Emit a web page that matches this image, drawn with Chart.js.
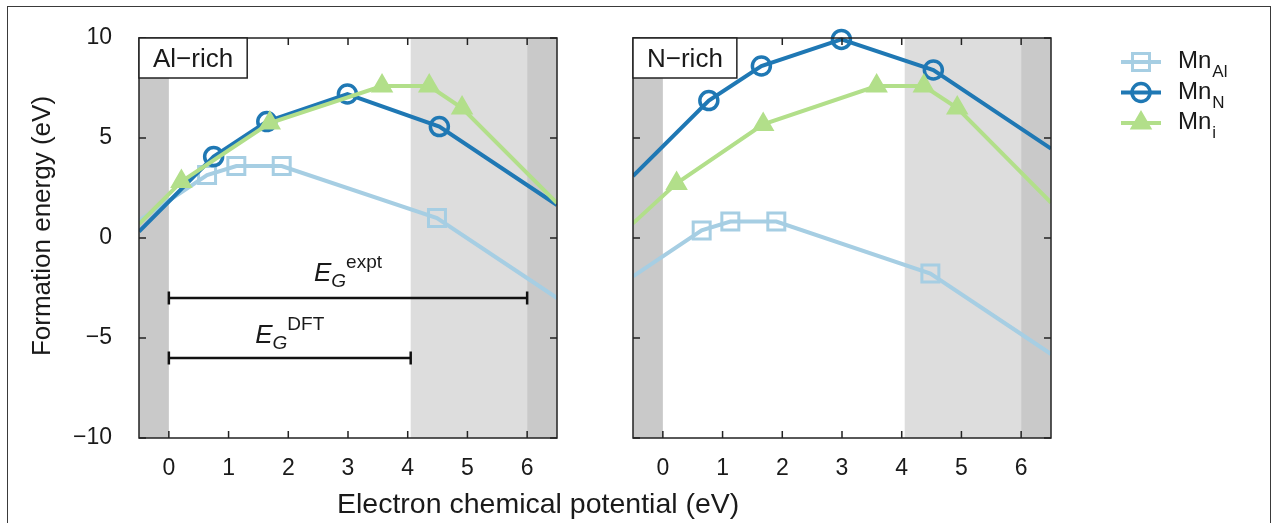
<!DOCTYPE html>
<html>
<head>
<meta charset="utf-8">
<title>Mn defect formation energies</title>
<script src="https://cdn.jsdelivr.net/npm/chart.js@4"></script>
<style>
  body { margin: 0; background: #fff; width: 1272px; height: 523px; overflow: hidden; position: relative;
         font-family: 'Liberation Sans', Arial, sans-serif; }
  canvas { position: absolute; left: 0; top: 0; }
  #frame { position: absolute; left: 7px; top: 6px; width: 1264px; height: 540px; box-sizing: border-box;
           border: 1.5px solid #3a3a3a; border-bottom: none; }
  .axis-title { position: absolute; color: #1a1a1a; white-space: nowrap; line-height: 1; }
  #ytitle { left: -109px; top: 213px; width: 300px; height: 26px; font-size: 26px; text-align: center;
            transform: rotate(-90deg); }
  #xtitle { left: 337px; top: 489px; font-size: 28.5px; }
</style>
</head>
<body>
<div id="frame"></div>
<canvas id="alRich" width="1272" height="523"></canvas>
<canvas id="nRich" width="1272" height="523"></canvas>
<div id="ytitle" class="axis-title">Formation energy (eV)</div>
<div id="xtitle" class="axis-title">Electron chemical potential (eV)</div>
<script>
// axes
const xMin = -0.5, xMax = 6.5;
const xTickValues = [0, 1, 2, 3, 4, 5, 6];
const yTickValues = [-10, -5, 0, 5, 10];

// band gaps (eV): DFT and experiment, with the VBM at 0
const gapDFT = 4.05;
const gapExpt = 6.0;

// Al-rich transition-level lines
const alRichMnAlX = [-0.5, 0.64, 1.13, 1.89, 4.49, 6.5];
const alRichMnAlY = [0.87, 3.15, 3.6, 3.6, 1.0, -3.0];
const alRichMnNX  = [-0.5, 0.75, 1.64, 2.99, 4.53, 6.5];
const alRichMnNY  = [0.32, 4.07, 5.82, 7.2, 5.57, 1.65];
const alRichMniX  = [-0.5, 0.21, 1.69, 3.57, 4.36, 4.91, 6.5];
const alRichMniY  = [0.7, 2.82, 5.75, 7.6, 7.6, 6.5, 1.75];

// N-rich transition-level lines
const nRichMnAlX = [-0.5, 0.65, 1.13, 1.9, 4.48, 6.5];
const nRichMnAlY = [-1.92, 0.38, 0.82, 0.82, -1.78, -5.8];
const nRichMnNX  = [-0.5, 0.77, 1.65, 2.99, 4.53, 6.5];
const nRichMnNY  = [3.1, 6.87, 8.6, 9.93, 8.4, 4.47];
const nRichMniX  = [-0.5, 0.23, 1.68, 3.58, 4.37, 4.93, 6.5];
const nRichMniY  = [0.73, 2.73, 5.68, 7.6, 7.6, 6.5, 1.77];

const FONT = "'Liberation Sans', Arial, sans-serif";
const INK = '#1a1a1a';

const styles = {
  MnAl: { color: '#a6cee3', shape: 'rect',     radius: 12, fill: 'rgba(255,255,255,0)', pointBorder: 3,   order: 3 },
  MnN:  { color: '#1f78b4', shape: 'circle',   radius: 9,  fill: 'rgba(255,255,255,0)', pointBorder: 3.5, order: 2 },
  Mni:  { color: '#b2df8a', shape: 'triangle', radius: 11, fill: '#b2df8a',             pointBorder: 2,   order: 1 }
};

// grey bands: outside the experimental gap, and between the DFT and experimental CBM
const bands = [
  { from: xMin, to: 0, color: '#c9c9c9' },
  { from: gapDFT, to: gapExpt, color: '#dddddd' },
  { from: gapExpt, to: xMax, color: '#c9c9c9' }
];

function series(xs, ys, st) {
  const r = xs.map((x, i) => (i === 0 || i === xs.length - 1) ? 0 : st.radius);
  return {
    data: xs.map((x, i) => ({ x: x, y: ys[i] })),
    borderColor: st.color,
    borderWidth: 4,
    pointStyle: st.shape,
    pointRadius: r,
    pointHoverRadius: r,
    pointBorderColor: st.color,
    pointBackgroundColor: st.fill,
    pointBorderWidth: st.pointBorder,
    order: st.order,
    // markers near the top edge may spill over the frame
    clip: { left: 0, right: 0, top: false, bottom: 0 }
  };
}

function gapBar(width, level) {
  return {
    data: [{ x: 0, y: level }, { x: width, y: level }],
    borderColor: '#111',
    borderWidth: 2.5,
    pointStyle: 'line',
    rotation: 90,
    pointRadius: 6.5,
    pointHoverRadius: 6.5,
    pointBorderColor: '#111',
    pointBorderWidth: 2.5,
    order: 0
  };
}

function markerPath(ctx, shape, x, y, r) {
  ctx.beginPath();
  if (shape === 'rect') {
    const s = r * Math.SQRT1_2;
    ctx.rect(x - s, y - s, 2 * s, 2 * s);
  } else if (shape === 'circle') {
    ctx.arc(x, y, r, 0, Math.PI * 2);
  } else {
    const h = r * Math.sin(Math.PI / 3);
    ctx.moveTo(x, y - r);
    ctx.lineTo(x + h, y + r / 2);
    ctx.lineTo(x - h, y + r / 2);
    ctx.closePath();
  }
}

// E_G with italic subscript and upright superscript, centred on cx
function drawGapLabel(ctx, cx, baseline, sup) {
  ctx.font = 'italic 26px ' + FONT;
  const wE = ctx.measureText('E').width;
  ctx.font = 'italic 19px ' + FONT;
  const wG = ctx.measureText('G').width;
  ctx.font = '19px ' + FONT;
  const wS = ctx.measureText(sup).width;
  let x = cx - (wE + wG + wS) / 2;
  ctx.fillStyle = INK;
  ctx.textAlign = 'left';
  ctx.textBaseline = 'alphabetic';
  ctx.font = 'italic 26px ' + FONT;
  ctx.fillText('E', x, baseline);
  x += wE;
  ctx.font = 'italic 19px ' + FONT;
  ctx.fillText('G', x, baseline + 6);
  x += wG;
  ctx.font = '19px ' + FONT;
  ctx.fillText(sup, x, baseline - 13);
}

const panelDecor = {
  id: 'panelDecor',
  beforeDatasetsDraw(chart) {
    const { ctx, chartArea: a, scales: { x } } = chart;
    ctx.save();
    bands.forEach(b => {
      const x0 = x.getPixelForValue(b.from), x1 = x.getPixelForValue(b.to);
      ctx.fillStyle = b.color;
      ctx.fillRect(x0, a.top, x1 - x0, a.bottom - a.top);
    });
    ctx.restore();
  },
  afterDatasetsDraw(chart, args, opts) {
    const { ctx, chartArea: a, scales: { x, y } } = chart;
    ctx.save();
    // inward ticks on all four sides
    ctx.strokeStyle = '#222';
    ctx.lineWidth = 1.5;
    ctx.beginPath();
    xTickValues.forEach(v => {
      const px = x.getPixelForValue(v);
      ctx.moveTo(px, a.bottom); ctx.lineTo(px, a.bottom - 7);
      ctx.moveTo(px, a.top); ctx.lineTo(px, a.top + 7);
    });
    yTickValues.forEach(v => {
      const py = y.getPixelForValue(v);
      ctx.moveTo(a.left, py); ctx.lineTo(a.left + 7, py);
      ctx.moveTo(a.right, py); ctx.lineTo(a.right - 7, py);
    });
    ctx.stroke();
    ctx.strokeRect(a.left, a.top, a.right - a.left, a.bottom - a.top);

    // panel label
    ctx.font = '26px ' + FONT;
    const tw = ctx.measureText(opts.label).width;
    ctx.fillStyle = '#fff';
    ctx.fillRect(a.left, a.top, tw + 28, 40);
    ctx.strokeRect(a.left, a.top, tw + 28, 40);
    ctx.fillStyle = INK;
    ctx.textBaseline = 'alphabetic';
    ctx.textAlign = 'left';
    ctx.fillText(opts.label, a.left + 14, a.top + 28.5);

    if (opts.gapLabels) {
      drawGapLabel(ctx, x.getPixelForValue(gapExpt / 2), y.getPixelForValue(-3) - 17, 'expt');
      drawGapLabel(ctx, x.getPixelForValue(gapDFT / 2), y.getPixelForValue(-6) - 15, 'DFT');
    }
    ctx.restore();
  }
};

const legendItems = [
  { sub: 'Al', st: styles.MnAl },
  { sub: 'N',  st: styles.MnN },
  { sub: 'i',  st: styles.Mni }
];

const sideLegend = {
  id: 'sideLegend',
  afterDraw(chart) {
    const ctx = chart.ctx;
    ctx.save();
    legendItems.forEach((it, i) => {
      const ry = 62 + i * 30.5;
      ctx.strokeStyle = it.st.color;
      ctx.lineWidth = 4;
      ctx.beginPath();
      ctx.moveTo(1121, ry); ctx.lineTo(1161, ry);
      ctx.stroke();
      markerPath(ctx, it.st.shape, 1141, ry, it.st.radius);
      ctx.lineWidth = it.st.pointBorder;
      ctx.fillStyle = it.st.fill;
      ctx.fill();
      ctx.stroke();
      ctx.fillStyle = INK;
      ctx.textAlign = 'left';
      ctx.textBaseline = 'alphabetic';
      ctx.font = '24px ' + FONT;
      ctx.fillText('Mn', 1178, ry + 6);
      const w = ctx.measureText('Mn').width;
      ctx.font = '17px ' + FONT;
      ctx.fillText(it.sub, 1178 + w + 1, ry + 15);
    });
    ctx.restore();
  }
};

function minusSign(v) {
  return String(v).replace('-', '\u2212');
}

function makePanel(id, p) {
  return new Chart(document.getElementById(id), {
    type: 'line',
    data: { datasets: p.datasets },
    options: {
      responsive: false,
      animation: false,
      devicePixelRatio: 1,
      events: [],
      layout: { padding: { top: 38, right: p.padRight, left: 0, bottom: 0 } },
      plugins: {
        legend: { display: false },
        tooltip: { enabled: false },
        panelDecor: { label: p.label, gapLabels: p.gapLabels }
      },
      scales: {
        x: {
          type: 'linear', min: xMin, max: xMax,
          afterBuildTicks: s => { s.ticks = xTickValues.map(v => ({ value: v })); },
          afterFit: s => { s.height = 85; },
          grid: { display: false }, border: { display: false },
          ticks: { padding: 9, color: INK, font: { size: 23, family: FONT }, maxRotation: 0,
                   callback: minusSign }
        },
        y: {
          type: 'linear', min: -10, max: 10,
          afterBuildTicks: s => { s.ticks = yTickValues.map(v => ({ value: v })); },
          afterFit: s => { s.width = p.axisWidth; },
          grid: { display: false }, border: { display: false },
          ticks: { display: p.showY, padding: 19, color: INK,
                   font: { size: 23, family: FONT }, callback: minusSign }
        }
      }
    },
    plugins: p.extra ? [panelDecor, p.extra] : [panelDecor]
  });
}

makePanel('alRich', {
  label: 'Al\u2212rich', gapLabels: true, showY: true, axisWidth: 139, padRight: 715,
  datasets: [
    series(alRichMnAlX, alRichMnAlY, styles.MnAl),
    series(alRichMnNX, alRichMnNY, styles.MnN),
    series(alRichMniX, alRichMniY, styles.Mni),
    gapBar(gapExpt, -3),
    gapBar(gapDFT, -6)
  ]
});

makePanel('nRich', {
  label: 'N\u2212rich', gapLabels: false, showY: false, axisWidth: 633, padRight: 221, extra: sideLegend,
  datasets: [
    series(nRichMnAlX, nRichMnAlY, styles.MnAl),
    series(nRichMnNX, nRichMnNY, styles.MnN),
    series(nRichMniX, nRichMniY, styles.Mni)
  ]
});
</script>
</body>
</html>
